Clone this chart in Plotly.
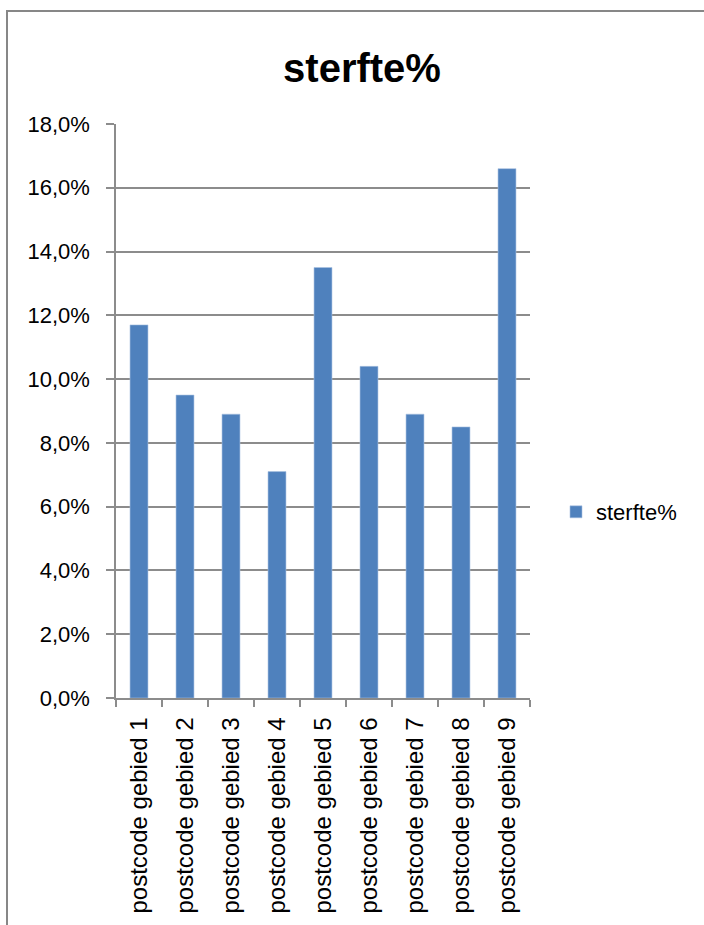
import plotly.graph_objects as go

# Mortality percentage per postcode area
categories = [f"postcode gebied {i}" for i in range(1, 10)]
sterfte = [0.117, 0.095, 0.089, 0.071, 0.135, 0.104, 0.089, 0.085, 0.166]
y_ticks = [0.0, 0.02, 0.04, 0.06, 0.08, 0.10, 0.12, 0.14, 0.16, 0.18]

W, H = 704, 925
L, R, T, B = 116, 174, 124, 227
pw, ph = W - L - R, H - T - B

def px_x(x):
    return (x - L) / pw

def px_y(y):
    return (H - B - y) / ph

FONT = "Liberation Sans"
GRID = "#8c8c8c"

fig = go.Figure(
    go.Bar(
        x=categories,
        y=sterfte,
        name="sterfte%",
        marker=dict(color="#4f81bd", line=dict(color="#a9c1e0", width=0.6)),
        showlegend=True,
    )
)

fig.update_layout(
    width=W,
    height=H,
    margin=dict(l=L, r=R, t=T, b=B, pad=0),
    paper_bgcolor="white",
    plot_bgcolor="white",
    separators=",.",
    bargap=0.61,
    font=dict(family=FONT, color="black"),
    title=dict(
        text="<b>sterfte%</b>",
        font=dict(family=FONT, size=40, color="black"),
        xref="container", yref="container",
        x=362 / W, y=1 - 68 / H,
        xanchor="center", yanchor="middle",
    ),
    legend=dict(
        x=px_x(556), y=px_y(512),
        xanchor="left", yanchor="middle",
        font=dict(family=FONT, size=22, color="black"),
        bgcolor="rgba(0,0,0,0)",
        itemwidth=30,
    ),
)

fig.update_yaxes(
    range=[0, 0.18],
    tickvals=y_ticks,
    tickformat=".1%",
    showgrid=True, gridcolor=GRID, gridwidth=1.5,
    showline=True, linecolor=GRID, linewidth=1.5,
    ticks="outside", ticklen=8, tickcolor=GRID, tickwidth=1.5,
    ticklabelstandoff=12,
    tickfont=dict(family=FONT, size=22, color="black"),
    zeroline=False,
)

fig.update_xaxes(
    type="category",
    tickangle=-90,
    tickson="boundaries",
    showline=True, linecolor=GRID, linewidth=1.5,
    ticks="outside", ticklen=7, tickcolor=GRID, tickwidth=1.5,
    ticklabelstandoff=8,
    tickfont=dict(family=FONT, size=24, color="black"),
    showgrid=False,
)

# Chart frame border
fig.add_shape(
    type="rect", xref="paper", yref="paper",
    x0=px_x(7), x1=px_x(W + 20), y0=px_y(H + 20), y1=px_y(11),
    line=dict(color="#878787", width=2), fillcolor="rgba(0,0,0,0)", layer="below",
)

fig.write_html("out.html")
